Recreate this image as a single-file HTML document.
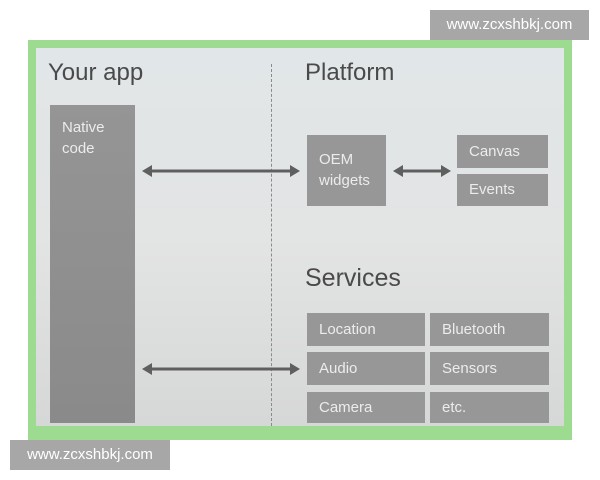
<!DOCTYPE html>
<html><head><style>
body{margin:0;width:600px;height:480px;background:#fff;position:relative;overflow:hidden;font-family:"Liberation Sans",sans-serif}
.a{position:absolute}
.b{position:absolute;background:#979797;color:#ececec;font-size:15px;box-sizing:border-box;padding-left:12px}
.h{position:absolute;color:#4a4a4a;font-size:24px}
.wm{position:absolute;background:#a7a7a7;color:#fff;font-size:15px;text-align:center;line-height:30px}
</style></head><body>
<div class="a" style="left:28px;top:40px;width:544px;height:400px;background:#9ddc90"></div>
<div class="a" style="left:36px;top:48px;width:528px;height:378px;background:linear-gradient(180deg,#e1e6e8 0%,#e3e4e4 50%,#d6d7d7 100%)"></div>
<div class="a" style="left:271px;top:64px;height:362px;border-left:1.5px dashed #8a8a8a"></div>
<div class="h" style="left:48px;top:59px">Your app</div>
<div class="h" style="left:305px;top:59px">Platform</div>
<div class="h" style="left:305px;top:264px;font-size:25px">Services</div>
<div class="b" style="left:50px;top:105px;width:85px;height:318px;background:linear-gradient(180deg,#959595,#8a8a8a);padding-top:12px;line-height:21px">Native<br>code</div>
<div class="b" style="left:307px;top:135px;width:79px;height:71px;padding-top:14px;line-height:21px">OEM<br>widgets</div>
<div class="b" style="left:457px;top:135px;width:91px;height:33px;line-height:33px">Canvas</div>
<div class="b" style="left:457px;top:174px;width:91px;height:32px;line-height:32px">Events</div>
<div class="b" style="left:307px;top:313px;width:118px;height:33px;line-height:33px">Location</div>
<div class="b" style="left:430px;top:313px;width:119px;height:33px;line-height:33px">Bluetooth</div>
<div class="b" style="left:307px;top:352px;width:118px;height:33px;line-height:33px">Audio</div>
<div class="b" style="left:430px;top:352px;width:119px;height:33px;line-height:33px">Sensors</div>
<div class="b" style="left:307px;top:392px;width:118px;height:31px;line-height:31px">Camera</div>
<div class="b" style="left:430px;top:392px;width:119px;height:31px;line-height:31px">etc.</div>
<svg class="a" style="left:0;top:0" width="600" height="480">
<g stroke="#5f5f5f" stroke-width="3" fill="#5f5f5f">
<line x1="148" y1="171" x2="294" y2="171"/><polygon points="142,171 152,165 152,177" stroke="none"/><polygon points="300,171 290,165 290,177" stroke="none"/>
<line x1="398" y1="171" x2="446" y2="171"/><polygon points="393,171 403,165 403,177" stroke="none"/><polygon points="451,171 441,165 441,177" stroke="none"/>
<line x1="148" y1="369" x2="294" y2="369"/><polygon points="142,369 152,363 152,375" stroke="none"/><polygon points="300,369 290,363 290,375" stroke="none"/>
</g></svg>
<div class="wm" style="left:430px;top:10px;width:159px;height:30px">www.zcxshbkj.com</div>
<div class="wm" style="left:10px;top:440px;width:160px;height:30px">www.zcxshbkj.com</div>
</body></html>
